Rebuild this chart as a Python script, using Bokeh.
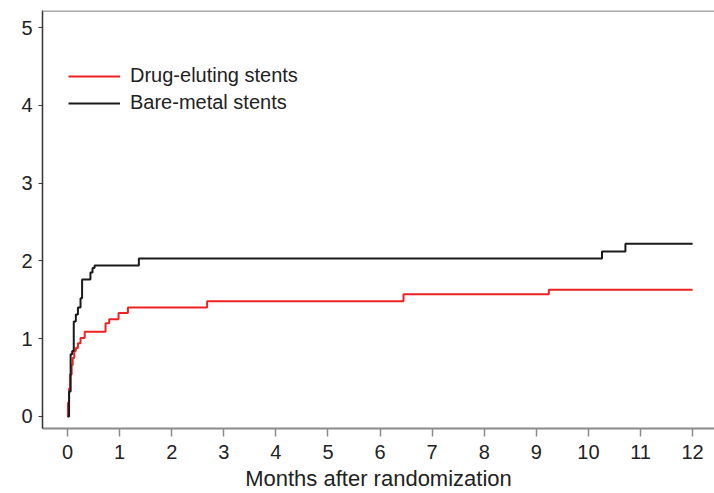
from bokeh.plotting import figure
from bokeh.models import Legend, LegendItem, Span, FixedTicker, Range1d
from bokeh.embed import file_html
from bokeh.resources import INLINE

# Months after randomization (event times) and cumulative incidence (%)
des_months = [0, 0.01, 0.03, 0.05, 0.08, 0.10, 0.13, 0.16, 0.20, 0.25, 0.33,
              0.73, 0.80, 0.98, 1.16, 2.68, 6.45, 9.24, 12.0]
des_values = [0, 0.18, 0.36, 0.54, 0.66, 0.75, 0.84, 0.88, 0.94, 1.01, 1.09,
              1.20, 1.25, 1.33, 1.40, 1.48, 1.57, 1.63, 1.63]

bms_months = [0, 0.03, 0.06, 0.09, 0.12, 0.16, 0.20, 0.25, 0.28, 0.31, 0.44,
              0.48, 0.52, 1.37, 10.26, 10.71, 12.0]
bms_values = [0, 0.32, 0.80, 0.84, 1.22, 1.31, 1.40, 1.52, 1.76, 1.76, 1.85,
              1.91, 1.94, 2.03, 2.12, 2.22, 2.22]

x_ticks = list(range(0, 13))
y_ticks = [0, 1, 2, 3, 4, 5]
series_names = ["Drug-eluting stents", "Bare-metal stents"]
x_title = "Months after randomization"

FONT = "Liberation Sans"
Y0, Y1 = -0.155, 5.22

p = figure(width=714, height=493, output_backend="svg", toolbar_location=None,
           x_range=Range1d(-0.48, 12.42), y_range=Range1d(Y0, Y1),
           min_border_left=42, min_border_right=0, min_border_top=10,
           min_border_bottom=0)
p.outline_line_color = None
p.grid.visible = False
p.background_fill_color = "white"
p.border_fill_color = "white"

r_des = p.step(des_months, des_values, mode="after", line_color="#ee2222",
               line_width=2)
r_bms = p.step(bms_months, bms_values, mode="after", line_color="#1a1a1a",
               line_width=2)

# top border line
p.add_layout(Span(location=Y1, dimension="width", line_color="#a8a8a8",
                  line_width=3))

xa = p.xaxis[0]
xa.ticker = FixedTicker(ticks=x_ticks)
xa.axis_line_color = "#8a8a8a"
xa.axis_line_width = 2
xa.major_tick_line_color = "#8a8a8a"
xa.major_tick_line_width = 1.5
xa.major_tick_in = 0
xa.major_tick_out = 8
xa.minor_tick_line_color = None
xa.major_label_standoff = 8
xa.major_label_text_font = FONT
xa.major_label_text_font_size = "20px"
xa.major_label_text_color = "#222222"
xa.axis_label = x_title
xa.axis_label_text_font = FONT
xa.axis_label_text_font_size = "22px"
xa.axis_label_text_font_style = "normal"
xa.axis_label_text_color = "#222222"
xa.axis_label_standoff = 4

ya = p.yaxis[0]
ya.ticker = FixedTicker(ticks=y_ticks)
ya.axis_line_color = "#333333"
ya.axis_line_width = 1.5
ya.major_tick_line_color = "#333333"
ya.major_tick_in = 0
ya.major_tick_out = 4
ya.minor_tick_line_color = None
ya.major_label_standoff = 6
ya.major_label_text_font = FONT
ya.major_label_text_font_size = "20px"
ya.major_label_text_color = "#222222"

legend = Legend(items=[LegendItem(label=series_names[0], renderers=[r_des]),
                       LegendItem(label=series_names[1], renderers=[r_bms])],
                location=(26, 314), glyph_width=52, glyph_height=20,
                label_height=20, label_standoff=10, spacing=4, padding=0,
                margin=0, border_line_color=None, background_fill_alpha=0,
                label_text_font=FONT, label_text_font_size="20px",
                label_text_color="#222222")
p.add_layout(legend)

open("out.html", "w").write(file_html(p, INLINE))
